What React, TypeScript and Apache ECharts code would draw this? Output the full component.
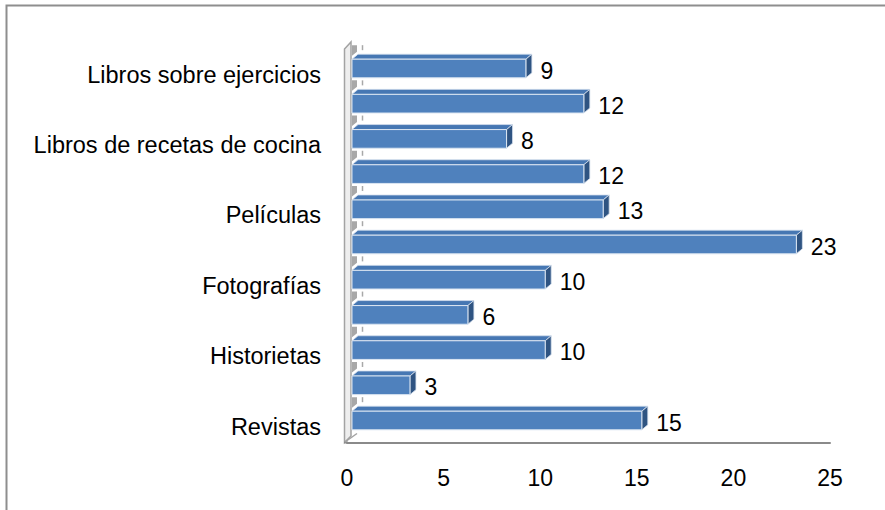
import React, { useEffect, useRef } from "react";
import * as echarts from "echarts";

// Categories from bottom to top (only every other label is shown, as in the reference)
const categories: string[] = [
  "Revistas",
  " ",
  "Historietas",
  "  ",
  "Fotografías",
  "   ",
  "Películas",
  "    ",
  "Libros de recetas de cocina",
  "     ",
  "Libros sobre ejercicios",
];
const values: number[] = [15, 3, 10, 6, 10, 23, 13, 12, 8, 12, 9];
const xMin = 0;
const xMax = 25;
const xInterval = 5;

const FONT = '"Liberation Sans", Arial, sans-serif';

export default function App() {
  const ref = useRef<HTMLDivElement>(null);
  useEffect(() => {
    if (!ref.current) return;
    const chart = echarts.init(ref.current, null, { renderer: "svg" });
    const data = values.map((v, i) => [v, i]);
    const OFF = 5; // 3D front-plane shift
    const DX = 6;
    const DY = 5;
    chart.setOption({
      animation: false,
      backgroundColor: "#ffffff",
      grid: [
        {
          left: 347,
          top: 50.9,
          width: 483,
          height: 387.2,
          outerBoundsMode: "none",
          containLabel: false,
        },
        {
          left: 347,
          top: 57,
          width: 483,
          height: 387.2,
          outerBoundsMode: "none",
          containLabel: false,
        },
      ],
      xAxis: [
        {
          type: "value",
          gridIndex: 0,
          min: xMin,
          max: xMax,
          interval: xInterval,
          offset: 4.4,
          splitLine: { show: false },
          axisTick: { show: false },
          axisLine: { show: true, lineStyle: { color: "#8a8a8a", width: 2 } },
          axisLabel: {
            color: "#000",
            fontSize: 23,
            fontFamily: FONT,
            margin: 35.5,
            verticalAlign: "middle",
          },
        },
        {
          type: "value",
          gridIndex: 1,
          min: xMin,
          max: xMax,
          show: false,
        },
      ],
      yAxis: [
        {
          type: "category",
          gridIndex: 0,
          data: categories,
          axisLine: { show: false },
          axisTick: { show: false },
          splitLine: { show: false },
          axisLabel: { show: false },
        },
        {
          type: "category",
          gridIndex: 1,
          data: categories,
          axisLine: { show: false },
          axisTick: { show: false },
          splitLine: { show: false },
          axisLabel: {
            interval: 1,
            color: "#000",
            fontSize: 23.5,
            fontFamily: FONT,
            margin: 26,
          },
        },
      ],
      graphic: [
        {
          type: "rect",
          z: 0,
          shape: { x: 6.5, y: 5.5, width: 900, height: 530 },
          style: { fill: "none", stroke: "#8e8e8e", lineWidth: 2 },
        },
        {
          type: "polygon",
          z: 0,
          shape: {
            points: [
              [344.5, 49],
              [351, 42],
              [351, 436],
              [344.5, 442.5],
            ],
          },
          style: { fill: "#eeeeee", stroke: "#a3a3a3", lineWidth: 1.5 },
        },
        {
          type: "line",
          z: 0,
          shape: { x1: 344, y1: 442.5, x2: 348, y2: 442.5 },
          style: { stroke: "#8a8a8a", lineWidth: 2 },
        },
        {
          type: "line",
          z: 0,
          shape: { x1: 345, y1: 442, x2: 357, y2: 433.5 },
          style: { stroke: "#a3a3a3", lineWidth: 1.5 },
        },
      ],
      series: [
        {
          type: "custom",
          xAxisIndex: 0,
          yAxisIndex: 0,
          encode: { x: 0, y: 1 },
          data,
          renderItem: (params: any, api: any) => {
            const val = api.value(0);
            const cat = api.value(1);
            const p0 = api.coord([0, cat]);
            const p1 = api.coord([val, cat]);
            const band = api.size([0, 1])[1];
            const h = band * 0.53;
            const x0 = p0[0] + OFF;
            const x1 = p1[0] + OFF;
            const yc = p0[1];
            const yF = yc - h / 2;
            const yB = yc + h / 2;
            return {
              type: "group",
              children: [
                {
                  type: "polygon",
                  shape: {
                    points: [
                      [x0, yF - 14],
                      [x0 + 5, yF - 14],
                      [x0 + 5, yF - 7.5],
                      [x0, yF - 3.5],
                    ],
                  },
                  style: { fill: "#a8a8a8" },
                },
                {
                  type: "line",
                  shape: { x1: x0 + 10.5, y1: yF - 14, x2: x0 + 10.5, y2: yF - 9 },
                  style: { stroke: "#a8a8a8", lineWidth: 1.5 },
                },
                {
                  type: "polygon",
                  shape: {
                    points: [
                      [x0, yF],
                      [x0 + DX, yF - DY],
                      [x1 + DX, yF - DY],
                      [x1, yF],
                    ],
                  },
                  style: { fill: "#4677b3", stroke: "#d6e0ee", lineWidth: 0.8 },
                },
                {
                  type: "polygon",
                  shape: {
                    points: [
                      [x1, yF],
                      [x1 + DX, yF - DY],
                      [x1 + DX, yB - DY],
                      [x1, yB],
                    ],
                  },
                  style: { fill: "#2f5482", stroke: "#d6e0ee", lineWidth: 0.8 },
                },
                {
                  type: "rect",
                  shape: { x: x0, y: yF, width: x1 - x0, height: h },
                  style: { fill: "#4f81bd", stroke: "#dce6f2", lineWidth: 1 },
                },
                {
                  type: "text",
                  x: x1 + 14.5,
                  y: yc + 2,
                  style: {
                    text: String(val),
                    fill: "#000",
                    fontSize: 23,
                    fontFamily: FONT,
                    align: "left",
                    verticalAlign: "middle",
                  },
                },
              ],
            };
          },
        },
      ],
    });
    return () => chart.dispose();
  }, []);
  return (
    <div
      ref={ref}
      style={{ position: "absolute", left: 0, top: 0, width: 885, height: 510 }}
    />
  );
}
